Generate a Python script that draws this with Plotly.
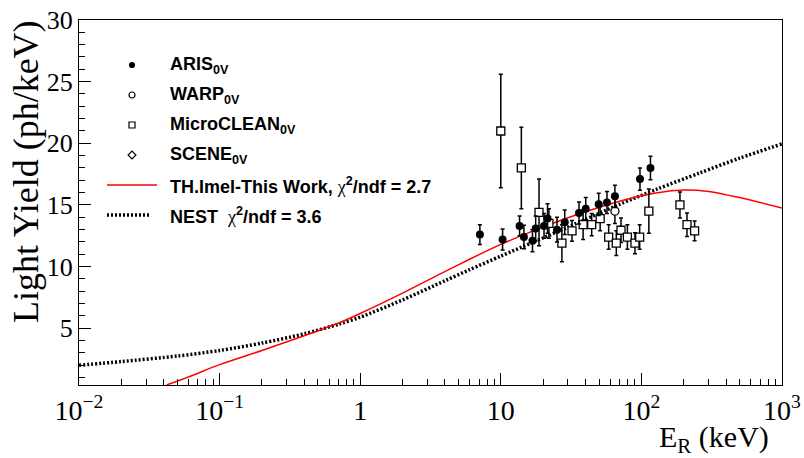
import plotly.graph_objects as go

# ---- measured light yield (ph/keV) vs nuclear recoil energy (keV) ----
aris_E = [7.1, 10.3, 13.6, 14.6, 16.8, 17.7, 20.3, 21.5, 25.1, 28.5, 36.0, 40.2, 49.7, 56.9, 64.8, 97.7, 116]
aris_LY = [12.6, 12.2, 13.3, 12.4, 12.1, 13.1, 13.3, 13.9, 13.0, 13.6, 14.35, 14.7, 15.05, 15.2, 15.7, 17.1, 18.0]
aris_err = [0.8, 0.85, 0.8, 0.95, 0.9, 1.0, 1.0, 1.2, 1.0, 1.0, 0.9, 0.9, 0.9, 0.9, 0.9, 0.9, 0.95]

warp_E = [64.8]
warp_LY = [14.5]
warp_err = [1.0]

mc_E = [10.0, 14.0, 18.7, 22.0, 27.2, 32.1, 38.5, 44.3, 50.9, 58.5, 66.3, 71.6, 79.5, 90.0, 97.2, 113, 188, 211, 239]
mc_LY = [21.0, 18.0, 14.4, 13.5, 11.9, 12.9, 13.4, 13.4, 13.9, 12.4, 11.9, 12.95, 12.4, 11.9, 12.4, 14.5, 15.0, 13.4, 12.9]
mc_err = [4.6, 3.3, 2.7, 1.2, 1.5, 0.85, 1.2, 0.9, 1.0, 1.0, 1.0, 1.0, 1.0, 0.85, 1.0, 1.8, 1.05, 0.95, 0.8]

scene_E = []
scene_LY = []

# ---- model curves ----
imel_E = [0.042, 0.06, 0.1, 0.2, 0.4, 0.71, 1.0, 2.0, 4.0, 6.0, 10.0, 17.0, 26.0, 40.0, 70.0, 100.0, 150.0, 200.0, 300.0, 500.0, 1000.0]
imel_LY = [0.4, 1.05, 2.05, 3.2, 4.4, 5.45, 6.2, 7.85, 9.6, 10.6, 11.8, 12.9, 13.7, 14.45, 15.3, 15.75, 16.1, 16.22, 16.1, 15.6, 14.75]

nest_E = [0.01, 0.02, 0.05, 0.1, 0.2, 0.4, 0.71, 1.0, 2.0, 4.0, 6.0, 10.0, 17.0, 30.0, 70.0, 130.0, 260.0, 500.0, 1000.0]
nest_LY = [2.0, 2.3, 2.75, 3.2, 3.8, 4.55, 5.35, 5.9, 7.3, 8.85, 9.75, 10.85, 11.98, 13.2, 15.05, 16.3, 17.6, 18.8, 19.95]

x_tickvals = [0.01, 0.1, 1, 10, 100, 1000]
x_ticktext = ["10<sup>\u22122</sup>", "10<sup>\u22121</sup>", "1", "10", "10<sup>2</sup>", "10<sup>3</sup>"]
y_tickvals = [5, 10, 15, 20, 25, 30]

legend_labels = [
    "<b>ARIS<sub>0V</sub></b>",
    "<b>WARP<sub>0V</sub></b>",
    "<b>MicroCLEAN<sub>0V</sub></b>",
    "<b>SCENE<sub>0V</sub></b>",
    "<b>TH.Imel-This Work, </b><span style='font-family:Liberation Serif'>\u03c7</span><sup><b>2</b></sup><b>/ndf = 2.7</b>",
    "<b>NEST  </b><span style='font-family:Liberation Serif'>\u03c7</span><sup><b>2</b></sup><b>/ndf = 3.6</b>",
]

W, H = 804, 458
L, R, T, B = 79, 782, 20, 385  # frame edges in pixels

fig = go.Figure()

fig.add_trace(go.Scatter(x=nest_E, y=nest_LY, mode="lines",
                         line=dict(color="black", width=3.5, dash="2px,2px", shape="spline", smoothing=0.8),
                         showlegend=False))
fig.add_trace(go.Scatter(x=imel_E, y=imel_LY, mode="lines",
                         line=dict(color="#ff0000", width=1.5, shape="spline", smoothing=0.8),
                         showlegend=False))

err_style = dict(type="data", thickness=1.5, width=2, color="black")
fig.add_trace(go.Scatter(x=mc_E, y=mc_LY, mode="markers",
                         error_y=dict(array=mc_err, **err_style),
                         marker=dict(symbol="square", size=8, color="white", line=dict(color="black", width=1.3)),
                         showlegend=False))
fig.add_trace(go.Scatter(x=warp_E, y=warp_LY, mode="markers",
                         error_y=dict(array=warp_err, **err_style),
                         marker=dict(symbol="circle", size=8, color="white", line=dict(color="black", width=1.3)),
                         showlegend=False))
fig.add_trace(go.Scatter(x=aris_E, y=aris_LY, mode="markers",
                         error_y=dict(array=aris_err, **err_style),
                         marker=dict(symbol="circle", size=8, color="black"),
                         showlegend=False))
fig.add_trace(go.Scatter(x=scene_E, y=scene_LY, mode="markers",
                         marker=dict(symbol="diamond-open", size=7, color="black"),
                         showlegend=False))

# ---- legend box drawn on a pixel-unit overlay ----
key_x = 132
text_x = 168
rows_y = [65, 95, 125, 155, 185, 215]
key_symbols = [("circle", "black", 5), ("circle-open", "black", 6), ("square-open", "black", 6), ("diamond-open", "black", 6)]
for (sym, col, sz), ry in zip(key_symbols, rows_y[:4]):
    fig.add_trace(go.Scatter(x=[key_x], y=[ry], xaxis="x2", yaxis="y2", mode="markers",
                             marker=dict(symbol=sym, size=sz, color=col, line=dict(width=1.2, color=col)),
                             showlegend=False, hoverinfo="skip"))
fig.add_trace(go.Scatter(x=[107, 157], y=[rows_y[4]] * 2, xaxis="x2", yaxis="y2", mode="lines",
                         line=dict(color="#ff0000", width=1.5), showlegend=False, hoverinfo="skip"))
fig.add_trace(go.Scatter(x=[107, 150], y=[rows_y[5]] * 2, xaxis="x2", yaxis="y2", mode="lines",
                         line=dict(color="black", width=3.5, dash="2px,2px"), showlegend=False, hoverinfo="skip"))

annotations = []
for label, ry in zip(legend_labels, rows_y):
    annotations.append(dict(x=text_x, y=ry, xref="x2", yref="y2", text=label, showarrow=False,
                            xanchor="left", yanchor="middle",
                            font=dict(family="Liberation Sans", size=18, color="black")))
# axis titles
annotations.append(dict(x=(771 - L) / (R - L), y=(B - 439) / (B - T), xref="paper", yref="paper",
                        text="E<sub>R</sub> (keV)", showarrow=False, xanchor="right", yanchor="middle",
                        font=dict(family="Liberation Serif", size=30, color="black")))
annotations.append(dict(x=(26 - L) / (R - L), y=(B - 172) / (B - T), xref="paper", yref="paper",
                        text="Light Yield (ph/keV)", showarrow=False, textangle=-90,
                        xanchor="center", yanchor="middle",
                        font=dict(family="Liberation Serif", size=36, color="black")))

fig.update_layout(
    width=W, height=H,
    margin=dict(l=L, r=W - R, t=T, b=H - B, autoexpand=False),
    paper_bgcolor="white", plot_bgcolor="white",
    font=dict(family="Liberation Serif", color="black"),
    annotations=annotations,
    xaxis=dict(type="log", range=[-2, 3], tickmode="array", tickvals=x_tickvals, ticktext=x_ticktext,
               ticks="inside", ticklen=12, tickwidth=1, tickcolor="black", automargin=False,
               minor=dict(ticks="inside", ticklen=6, tickwidth=1, tickcolor="black", dtick="D1", showgrid=False),
               showline=True, linecolor="black", linewidth=1, mirror=True, showgrid=False, zeroline=False,
               tickfont=dict(family="Liberation Serif", size=28, color="black")),
    yaxis=dict(range=[0.4, 30], tickmode="array", tickvals=y_tickvals,
               ticks="inside", ticklen=12, tickwidth=1, tickcolor="black", automargin=False,
               minor=dict(ticks="inside", ticklen=6, tickwidth=1, tickcolor="black", dtick=1, showgrid=False),
               showline=True, linecolor="black", linewidth=1, mirror=True, showgrid=False, zeroline=False,
               tickfont=dict(family="Liberation Serif", size=26, color="black")),
    xaxis2=dict(range=[L, R], overlaying="x", visible=False, showgrid=False),
    yaxis2=dict(range=[B, T], overlaying="y", visible=False, showgrid=False),
)

fig.write_html("out.html")
